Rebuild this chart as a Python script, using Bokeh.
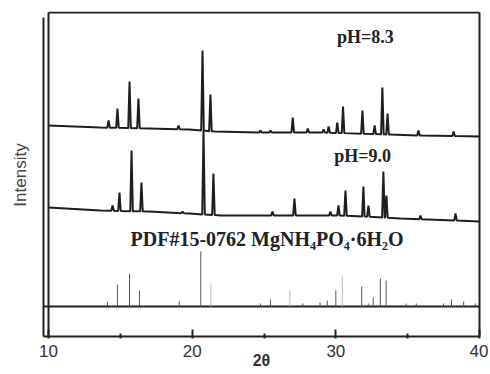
import numpy as np
from bokeh.plotting import figure
from bokeh.models import Range1d, Label, FixedTicker, LinearAxis
from bokeh.embed import file_html
from bokeh.resources import INLINE

# ---------------- data (2theta in degrees, intensity in arbitrary units) ----------------
# pH = 8.3 pattern
ph83_base_x = [10.0, 13.6, 17.0, 19.8, 21.6, 25.0, 29.0, 33.8, 36.0, 40.0]
ph83_base_y = [211, 209, 208, 207, 205, 204, 204, 202, 201, 200]
ph83_peak_x = [14.18, 14.80, 15.64, 16.26, 19.05, 20.72, 21.27, 24.75, 25.45, 27.00,
               28.05, 29.15, 29.50, 30.10, 30.50, 31.85, 32.70, 33.24, 33.60, 35.75, 38.20]
ph83_peak_y = [216, 228, 255, 238, 211, 286, 242, 206, 206, 219,
               208, 207, 210, 214, 230, 226, 211, 249, 223, 206, 205]

# pH = 9.0 pattern
ph90_base_x = [10.0, 13.6, 17.0, 19.8, 22.0, 30.0, 32.0, 34.5, 40.0]
ph90_base_y = [129, 126, 125, 123, 121, 121, 120, 118, 115]
ph90_peak_x = [14.46, 14.94, 15.78, 16.47, 19.33, 20.79, 21.48, 25.59, 27.12,
               29.62, 30.18, 30.67, 31.92, 32.27, 33.31, 33.52, 35.89, 38.33]
ph90_peak_y = [131, 144, 186, 154, 125, 206, 163, 125, 138,
               125, 131, 146, 150, 131, 165, 141, 121, 123]

# PDF#15-0762 reference lines
pdf_base = 30
pdf_x = [14.10, 14.80, 15.64, 16.33, 19.10, 20.60, 24.75, 25.45, 27.70, 28.90, 29.40,
         30.00, 31.80, 32.30, 32.60, 33.10, 33.50, 34.90, 35.60, 37.50, 38.05, 38.90, 39.70]
pdf_y = [35, 52, 63, 46, 35, 85, 33, 37, 33, 34, 36,
         46, 50, 33, 39, 58, 56, 33, 33, 33, 37, 35, 33]
pdf_light_x = [21.30, 26.80, 30.45]
pdf_light_y = [53, 46, 61]

x_ticks = [10, 20, 30, 40]
x_minor = [15, 25, 35]


def pattern(bx, by, px, py, w=0.09):
    xs = list(bx)
    ys = list(by)
    pb = np.interp(px, bx, by)
    for x, top, b in zip(px, py, pb):
        xs += [x - w, x, x + w]
        ys += [b, top, b]
    order = np.argsort(xs, kind="stable")
    return np.array(xs)[order], np.array(ys)[order]


# ---------------- figure ----------------
scale = 431 / 30.0  # px per degree
x0 = 10 - 8 / scale
x1 = x0 + 442 / scale

p = figure(width=488, height=374, output_backend="svg", toolbar_location=None,
           x_range=Range1d(x0, x1), y_range=Range1d(-2, 325),
           y_axis_location=None,
           min_border_left=40, min_border_right=6, min_border_top=11, min_border_bottom=36)
p.outline_line_color = None
p.grid.visible = False
p.background_fill_color = "white"
p.border_fill_color = "white"

ax = p.xaxis[0]
ax.ticker = FixedTicker(ticks=x_ticks, minor_ticks=x_minor)
ax.axis_line_color = None
ax.major_tick_in = 9
ax.major_tick_out = 0
ax.minor_tick_in = 5
ax.minor_tick_out = 0
ax.major_tick_line_width = 2
ax.minor_tick_line_width = 2
ax.major_tick_line_color = "#222222"
ax.minor_tick_line_color = "#222222"
ax.major_label_standoff = 6
ax.major_label_text_font = "Liberation Sans"
ax.major_label_text_font_size = "17px"
ax.major_label_text_color = "#333333"
ax.axis_label = "2θ"
ax.axis_label_standoff = -8
ax.axis_label_text_font = "Liberation Sans"
ax.axis_label_text_font_style = "bold"
ax.axis_label_text_font_size = "16px"
ax.axis_label_text_color = "#333333"

yax = LinearAxis(ticker=FixedTicker(ticks=[]), axis_line_color=None,
                 major_tick_in=0, major_tick_out=0, minor_tick_in=0, minor_tick_out=0,
                 major_label_standoff=0, axis_label="Intensity", axis_label_standoff=11,
                 axis_label_text_font="Liberation Sans", axis_label_text_font_style="normal",
                 axis_label_text_font_size="17px", axis_label_text_color="#444444")
p.add_layout(yax, "left")

# frame lines
xl = 10 - 5 / scale
frame_col = "#222222"
p.segment(x0=[xl, 10, 10, 40, xl, xl], y0=[0, 0, 324, 0, 0, pdf_base],
          x1=[xl, 10, 40, 40, 40, 40], y1=[319, 324, 324, 324, 0, pdf_base],
          line_color=frame_col, line_width=2)

# patterns
xs, ys = pattern(ph83_base_x, ph83_base_y, ph83_peak_x, ph83_peak_y)
p.line(xs, ys, line_color="#1e1e1e", line_width=2)
xs, ys = pattern(ph90_base_x, ph90_base_y, ph90_peak_x, ph90_peak_y)
p.line(xs, ys, line_color="#1e1e1e", line_width=2)

# PDF sticks
p.segment(x0=pdf_x, y0=[pdf_base] * len(pdf_x), x1=pdf_x, y1=pdf_y,
          line_color="#555555", line_width=1)
p.segment(x0=pdf_light_x, y0=[pdf_base] * len(pdf_light_x), x1=pdf_light_x, y1=pdf_light_y,
          line_color="#bbbbbb", line_width=1)

# texts
serif = "Liberation Serif"
p.add_layout(Label(x=32.06, y=300, text="pH=8.3", text_font=serif, text_font_style="bold",
                   text_font_size="18px", text_align="center", text_baseline="middle",
                   text_color="#222222"))
p.add_layout(Label(x=31.86, y=181, text="pH=9.0", text_font=serif, text_font_style="bold",
                   text_font_size="18px", text_align="center", text_baseline="middle",
                   text_color="#222222"))
p.add_layout(Label(x=15.71, y=98, text="PDF#15-0762 MgNH₄PO₄·6H₂O", text_font=serif,
                   text_font_style="bold", text_font_size="20px", text_align="left",
                   text_baseline="middle", text_color="#222222"))

open("out.html", "w").write(file_html(p, INLINE))
